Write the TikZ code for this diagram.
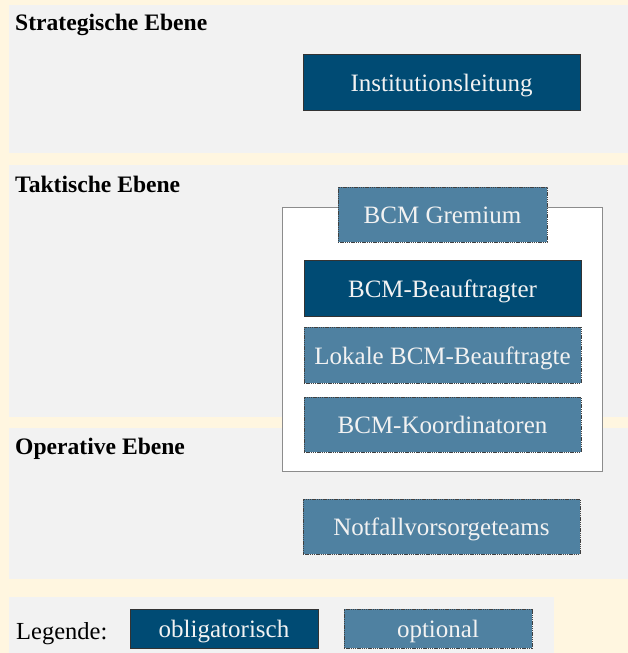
\documentclass[tikz,border=0pt]{standalone}
\usepackage{fontspec}
\setmainfont{Liberation Serif}
\definecolor{cream}{HTML}{FFF6E0}
\definecolor{panel}{HTML}{F2F2F2}
\definecolor{mandblue}{HTML}{004B74}
\definecolor{optblue}{HTML}{4F81A1}
\definecolor{boxtext}{HTML}{F2F2F2}
\tikzset{
  layer/.style={fill=panel, draw=none},
  heading/.style={anchor=base west, inner sep=0pt, font=\fontsize{23.6}{28}\selectfont\bfseries},
  rolebox/.style={inner sep=0pt, text=boxtext, text height=18.6pt, text depth=0pt,
    font=\fontsize{25}{30}\selectfont},
  mandatory/.style={rolebox, fill=mandblue, draw=black!80, line width=0.6pt},
  optionalbox/.style={rolebox, fill=optblue, draw=black!75, line width=0.7pt, dash pattern=on 1.4pt off 0.8pt},
  frame/.style={fill=white, draw=black!45, line width=0.8pt},
}
\begin{document}
\begin{tikzpicture}[x=1pt, y=-1pt]
  % canvas
  \fill[cream] (0,0) rectangle (628,653);
  \useasboundingbox (0,0) rectangle (628,653);

  % the three levels and the legend strip
  \fill[layer] (9,5) rectangle (628,153);
  \fill[layer] (9,165) rectangle (628,417);
  \fill[layer] (9,428) rectangle (628,579);
  \fill[layer] (9,597) rectangle (554,653);

  \node[heading] (hstrat) at (15,30) {Strategische Ebene};
  \node[heading] (htakt) at (15,192) {Taktische Ebene};
  \node[heading] (hoper) at (15,454) {Operative Ebene};

  % strategic level
  \node[mandatory, minimum width=277, minimum height=56] (leitung) at (441.5,82) {Institutionsleitung};

  % BCM organisation frame
  \draw[frame] (282,207) rectangle (602,471);
  \node[optionalbox, minimum width=209, minimum height=55] (gremium) at (442.5,214.5) {BCM Gremium};
  \node[mandatory, minimum width=277, minimum height=56] (beauftr) at (442.5,288) {BCM-Beauftragter};
  \node[optionalbox, minimum width=277, minimum height=56] (lokal) at (442.5,355) {Lokale BCM-Beauftragte};
  \node[optionalbox, minimum width=277, minimum height=55] (koord) at (442.5,424.5) {BCM-Koordinatoren};

  % operative level
  \node[optionalbox, minimum width=277, minimum height=55] (teams) at (441.5,526.5) {Notfallvorsorgeteams};

  % legend
  \node[anchor=base west, inner sep=0pt, font=\fontsize{24.5}{29}\selectfont] (leg) at (16,639) {Legende:};
  \node[mandatory, minimum width=188, minimum height=39] (legobl) at (224,628.5) {obligatorisch};
  \node[optionalbox, minimum width=188, minimum height=39] (legopt) at (438,628.5) {optional};
\end{tikzpicture}
\end{document}
